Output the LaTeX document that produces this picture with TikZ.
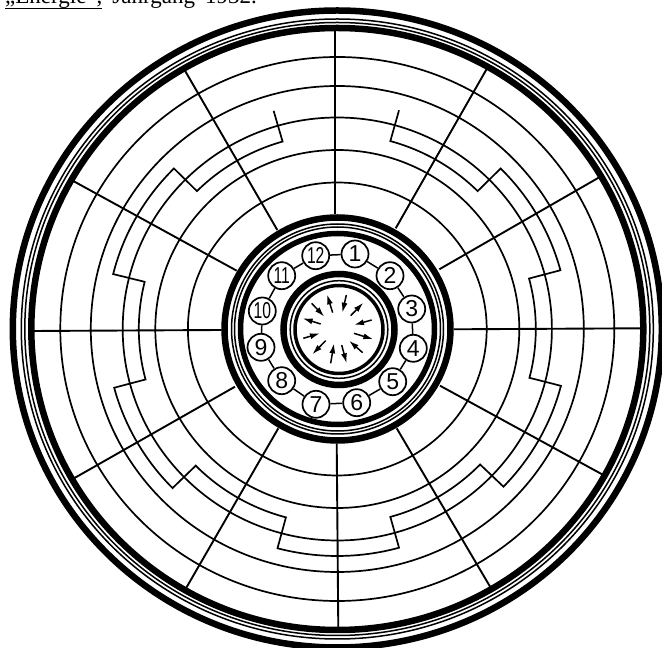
\documentclass[tikz,border=0pt]{standalone}
\usepackage{fontspec}
\usepackage{graphicx}
\setmainfont{Liberation Serif}
\newfontfamily\digitfont{Liberation Sans}
\usetikzlibrary{arrows.meta}
\tikzset{
  thickring/.style={line width=6.5pt},
  thinring/.style={line width=1.5pt},
  arcline/.style={line width=1.7pt},
  spoke/.style={line width=1.9pt},
  numnode/.style={circle,draw,line width=1.7pt,fill=white,minimum size=27pt,inner sep=0pt,font=\digitfont\fontsize{23}{23}\selectfont},
  link/.style={line width=1.5pt},
  inarrow/.style={line width=1.5pt,-{Latex[length=10pt,width=6pt]}},
  caption/.style={anchor=base west,inner sep=0pt,font=\fontsize{23}{23}\selectfont}
}
\newcommand{\twodig}[1]{\scalebox{0.68}[1]{#1}}
\begin{document}
\begin{tikzpicture}[x=1pt,y=1pt]
\useasboundingbox (0,0) rectangle (662,648);
\begin{scope}[yscale=-1,shift={(0,-648)}]
  % caption cut by the top edge
  \node[caption] (cap) at (5,4) {„Energie“,\hspace{10pt}Jahrgang\hspace{10pt}1932.};
  \draw[line width=1.5pt] (5,8.5) -- (102,8.5);

  % outer rings
  \draw[thickring] (337.3,329) ellipse [x radius=324.5,y radius=318.5];
  \draw[thinring]  (337.3,329) ellipse [x radius=316,y radius=310];
  \draw[thinring]  (337.3,329) ellipse [x radius=312.5,y radius=306.5];
  \draw[thickring] (337.3,329) ellipse [x radius=306,y radius=301];

  % concentric circles
  \foreach \rx/\ry in {149.4/146.5,182/179,214.6/211.5,246.5/243,277/272}
    \draw[arcline] (337.3,329) ellipse [x radius=\rx,y radius=\ry];

  % spokes
  \foreach \xa/\ya/\xb/\yb in {
    335/29/335/214, 486.7/69/395.7/228.3, 599.3/177.3/439.3/269.3,
    641.7/328.3/454/329.3, 603.3/475/440/385.7, 490.7/587.7/396.7/428.3,
    338.3/628.3/336.7/443.3, 186/588.3/278.3/428.3, 74/478.3/235/386.7,
    33/331/221.7/330, 72.7/180.7/236.7/270.7, 185/70.7/277.3/230}
    \draw[spoke] (\xa,\ya) -- (\xb,\yb);

  % inner rings
  \draw[thickring] (337.5,329) ellipse [x radius=113,y radius=111.5];
  \draw[thinring]  (337.5,329) ellipse [x radius=106,y radius=105];
  \draw[thinring]  (337.5,329) ellipse [x radius=103,y radius=102];
  \draw[thickring,line width=5.5pt] (337.5,329) ellipse [x radius=97,y radius=95.5];

  % numbered ring
  \node[numnode] (n1)  at (355,254)      {1};
  \node[numnode] (n2)  at (390,275.7)    {2};
  \node[numnode] (n3)  at (411.7,309)    {3};
  \node[numnode] (n4)  at (413.3,348.3)  {4};
  \node[numnode] (n5)  at (392.7,381.7)  {5};
  \node[numnode] (n6)  at (356.7,402.7)  {6};
  \node[numnode] (n7)  at (316,404.3)    {7};
  \node[numnode] (n8)  at (281.7,380.7)  {8};
  \node[numnode] (n9)  at (261,347.3)    {9};
  \node[numnode] (n10) at (262.3,311)    {\twodig{10}};
  \node[numnode] (n11) at (281.7,275.7)  {\twodig{11}};
  \node[numnode] (n12) at (315.7,255.7)  {\twodig{12}};
  \draw[link] (n1)--(n2) (n2)--(n3) (n3)--(n4) (n4)--(n5) (n5)--(n6) (n6)--(n7)
              (n7)--(n8) (n8)--(n9) (n9)--(n10) (n10)--(n11) (n11)--(n12) (n12)--(n1);

  % central rings
  \draw[thickring] (339,329.5) circle [radius=55.5];
  \draw[thinring]  (339,329.5) circle [radius=48.8];
  \draw[line width=3.5pt] (339,329.5) circle [radius=44];

  % arrows
  \foreach \xa/\ya/\xb/\yb in {
    158/128/141/73, 199/75/187/128, 212/137/250/98, 275/150/222/165,
    222/190/280/208, 248/248/207/212, 185/225/200/280, 152/280/162/220,
    137/212/97/253, 70/205/120/190, 122/162/68/145, 95/100/133/140}
    \draw[inarrow] ({280+\xa/3},{270+\ya/3}) -- ({280+\xb/3},{270+\yb/3});
\end{scope}

% winding (y upward, centred on the disc)
\begin{scope}[shift={(337.3,319)}]
  \draw[arcline,line join=miter]
    (106:231 and 227) -- (106:198.5 and 195)
    arc[start angle=106,end angle=135,x radius=198.5,y radius=195]
    -- (135:231 and 227)
    arc[start angle=135,end angle=166,x radius=231,y radius=227]
    -- (166:198.5 and 195)
    arc[start angle=166,end angle=195,x radius=198.5,y radius=195]
    -- (195:231 and 227)
    arc[start angle=195,end angle=224.5,x radius=231,y radius=227]
    -- (224.5:198.5 and 195)
    arc[start angle=224.5,end angle=255,x radius=198.5,y radius=195]
    -- (255:231 and 227)
    arc[start angle=255,end angle=285.5,x radius=231,y radius=227]
    -- (285.5:198.5 and 195)
    arc[start angle=285.5,end angle=316,x radius=198.5,y radius=195]
    -- (316:231 and 227)
    arc[start angle=316,end angle=345.5,x radius=231,y radius=227]
    -- (345.5:198.5 and 195)
    arc[start angle=345.5,end angle=375,x radius=198.5,y radius=195]
    -- (375:231 and 227)
    arc[start angle=375,end angle=405,x radius=231,y radius=227]
    -- (405:198.5 and 195)
    arc[start angle=405,end angle=434.5,x radius=198.5,y radius=195]
    -- (434.5:231 and 227);
\end{scope}
\end{tikzpicture}
\end{document}
